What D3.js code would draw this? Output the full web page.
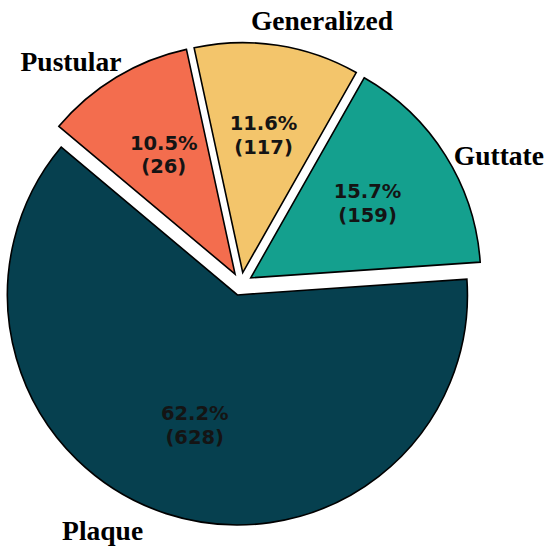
<!DOCTYPE html>
<html>
<head>
<meta charset="utf-8">
<script src="https://cdn.jsdelivr.net/npm/d3@7"></script>
<style>
  html, body { margin: 0; padding: 0; background: #ffffff; }
  svg { display: block; }
</style>
</head>
<body>
<svg id="chart" width="550" height="551"></svg>
<script>
// ---- data ----
const categories = ["Plaque", "Guttate", "Generalized", "Pustular"];
const percents = [62.2, 15.7, 11.6, 10.5];
const counts = [628, 159, 117, 26];
const colors = ["#06404F", "#14A08E", "#F3C56B", "#F36D4E"];

// ---- layout ----
const W = 550, H = 551;
const cx = 241, cy = 284, R = 230;
const explode = 11.5;
const startDeg = 140; // matplotlib-style start angle (counter-clockwise from +x)
const labelDist = 1.1, pctDist = 0.6;
// small nudges applied to the outer category labels
const labelNudge = {
  "Plaque": [-16, -5],
  "Guttate": [-11, 12],
  "Generalized": [-30, -2],
  "Pustular": [17, 4]
};

const rows = categories.map((c, i) => ({ name: c, pct: percents[i], n: counts[i], color: colors[i] }));

const toRad = d => d * Math.PI / 180;
const a0 = toRad(90 - startDeg);
const pie = d3.pie().sort(null).value(d => d.pct)
  .startAngle(a0).endAngle(a0 - 2 * Math.PI);
const arcs = pie(rows);

const arc = d3.arc().innerRadius(0).outerRadius(R);

const svg = d3.select("#chart");
const g = svg.append("g").attr("transform", `translate(${cx},${cy})`);

const slice = g.selectAll("g.slice").data(arcs).enter().append("g")
  .attr("class", "slice")
  .attr("transform", d => {
    const m = (d.startAngle + d.endAngle) / 2;
    return `translate(${explode * Math.sin(m)},${-explode * Math.cos(m)})`;
  });

slice.append("path")
  .attr("d", arc)
  .attr("fill", d => d.data.color)
  .attr("stroke", "#000")
  .attr("stroke-width", 1.6)
  .attr("stroke-linejoin", "miter");

// percentage labels
slice.each(function(d) {
  const m = (d.startAngle + d.endAngle) / 2;
  const x = pctDist * R * Math.sin(m), y = -pctDist * R * Math.cos(m);
  const t = d3.select(this).append("text")
    .attr("x", x).attr("y", y)
    .attr("text-anchor", "middle")
    .attr("font-family", "DejaVu Sans, sans-serif")
    .attr("font-weight", "bold")
    .attr("font-size", 19.5)
    .attr("fill", "#141414");
  t.append("tspan").attr("x", x).attr("dy", "-0.05em").text(d.data.pct.toFixed(1) + "%");
  t.append("tspan").attr("x", x).attr("dy", "1.2em").text("(" + d.data.n + ")");
  // vertically center the two-line block
  t.attr("transform", "translate(0,-5)");
});

// category labels
slice.each(function(d) {
  const m = (d.startAngle + d.endAngle) / 2;
  const x = labelDist * R * Math.sin(m), y = -labelDist * R * Math.cos(m);
  const nud = labelNudge[d.data.name] || [0, 0];
  d3.select(this).append("text")
    .attr("x", x + nud[0]).attr("y", y + nud[1])
    .attr("text-anchor", x > 0 ? "start" : "end")
    .attr("dominant-baseline", "central")
    .attr("font-family", "Liberation Serif, Times New Roman, serif")
    .attr("font-weight", "bold")
    .attr("font-size", 27.5)
    .attr("fill", "#000")
    .text(d.data.name);
});
</script>
</body>
</html>
